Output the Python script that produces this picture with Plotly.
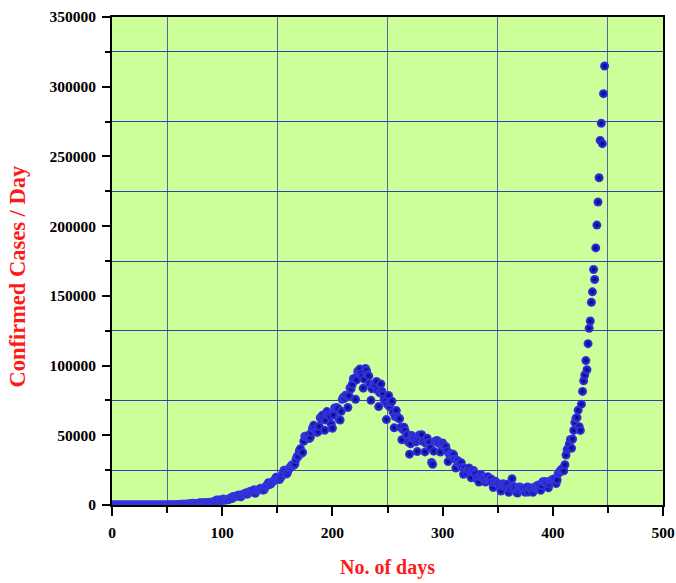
import plotly.graph_objects as go

# Daily confirmed cases, one value per day (day 0 = first reported case)
cases_jan_feb_2020 = [1, 0, 0, 1, 1] + [0] * 27
cases_mar_2020 = [2, 1, 22, 2, 1, 3, 5, 9, 15, 8, 10, 10, 21, 26, 11, 34, 25, 42, 58, 78,
                  69, 94, 74, 86, 73, 153, 136, 120, 187, 309]
cases_apr_2020 = [424, 486, 560, 579, 609, 484, 573, 565, 813, 871, 854, 758, 1243, 1031, 886,
                  1061, 922, 1371, 1580, 1239, 1537, 1292, 1667, 1408, 1835, 1607, 1568, 1902,
                  1705, 1801]
cases_may_2020 = [2396, 2564, 2952, 3656, 2971, 3602, 3344, 3339, 3175, 4311, 3592, 3562, 3726,
                  3991, 3808, 4794, 5050, 4628, 6154, 5720, 6023, 6536, 6667, 7111, 6414, 5843,
                  7293, 7300, 8105, 8336, 8782]
cases_jun_2020 = [7761, 8821, 9633, 9889, 9471, 10438, 10864, 8442, 10218, 10459, 10930, 11458,
                  11929, 11071, 10667, 10974, 12881, 13586, 14516, 15940, 14821, 14933, 15968,
                  16922, 17296, 18552, 19906, 19459, 18339, 18256]
cases_jul_2020 = [19429, 20903, 22771, 24850, 24248, 22252, 22752, 24879, 26506, 27114, 28637,
                  28701, 28498, 29429, 32695, 34956, 34884, 38902, 40425, 37148, 37724, 45720,
                  49310, 48916, 48661, 49931, 47704, 48513, 52123, 55079, 57118]
cases_aug_2020 = [54735, 52972, 52050, 52509, 56282, 62538, 61537, 64399, 62064, 53601, 60963,
                  66999, 64553, 65002, 63490, 57981, 55079, 64531, 69652, 68898, 69878, 69239,
                  61408, 60975, 67151, 75760, 77266, 76472, 78761, 78512, 69921]
cases_sep_2020 = [78357, 83883, 83341, 86432, 90632, 90802, 75809, 89706, 95735, 96551, 97570,
                  94372, 92071, 83809, 90123, 97894, 96424, 93337, 92605, 86961, 75083, 83347,
                  86508, 86052, 85362, 88600, 82170, 70589, 80472, 86821]
cases_oct_2020 = [81484, 79476, 75829, 74442, 61267, 72049, 78524, 70496, 73272, 74383, 66732,
                  55342, 63509, 67708, 63371, 62212, 61871, 55722, 46790, 54044, 55839, 53370,
                  50129, 50356, 45148, 36469, 43893, 49881, 48648, 48268, 46963]
cases_nov_2020 = [45231, 38310, 46253, 50209, 47638, 50357, 45674, 45903, 38073, 44281, 47905,
                  44879, 44878, 41100, 30548, 29163, 38617, 45576, 45882, 46232, 45209, 44059,
                  37975, 44376, 44489, 43082, 41322, 41810, 38772, 31118]
cases_dec_2020 = [36604, 35551, 36595, 36652, 36011, 32981, 26567, 32080, 31522, 29398, 30006,
                  30254, 27071, 22065, 26382, 24010, 22890, 25152, 26624, 24337, 19556, 23950,
                  24712, 23067, 22273, 18732, 20021, 16432, 20550, 21822, 20036]
cases_jan_2021 = [19079, 18177, 16505, 18088, 20346, 18139, 18222, 18645, 16311, 12584, 15968,
                  16946, 15590, 15158, 15144, 13788, 10064, 13823, 15223, 14545, 14256, 13203,
                  14849, 9102, 12689, 11666, 18855, 13083, 13052, 11427, 9102]
cases_feb_2021 = [8635, 11039, 12899, 12408, 11713, 12059, 11831, 9110, 11067, 12923, 9309,
                  12143, 12194, 11649, 9121, 11610, 12881, 13193, 13993, 14264, 14199, 10584,
                  13742, 16738, 16577, 16752, 16488, 15510]
cases_mar_2021 = [12286, 14989, 17407, 16838, 18327, 18711, 18599, 15388, 17921, 22854, 23285,
                  24882, 25320, 26291, 24492, 28903, 35871, 39726, 40953, 43846, 46951, 40715,
                  47262, 53476, 59118, 62258, 62714, 68020, 56211, 53480, 72330]
cases_apr_2021 = [81466, 89129, 93249, 103558, 96982, 115736, 126789, 131968, 145384, 152879,
                  168912, 161736, 184372, 200739, 217353, 234692, 261500, 273810, 259170,
                  295041, 314835]

daily_cases = (cases_jan_feb_2020 + cases_mar_2020 + cases_apr_2020 + cases_may_2020
               + cases_jun_2020 + cases_jul_2020 + cases_aug_2020 + cases_sep_2020
               + cases_oct_2020 + cases_nov_2020 + cases_dec_2020 + cases_jan_2021
               + cases_feb_2021 + cases_mar_2021 + cases_apr_2021)
days = list(range(len(daily_cases)))

x_ticks = [0, 100, 200, 300, 400, 500]
y_ticks = [0, 50000, 100000, 150000, 200000, 250000, 300000, 350000]

SERIF = "Liberation Serif, Times New Roman, serif"
TITLE_RED = "#ff1a1a"

fig = go.Figure(
    go.Scatter(
        x=days,
        y=daily_cases,
        mode="markers",
        marker=dict(
            size=9,
            color="#3a3ae8",
            gradient=dict(type="radial", color="#00007e"),
            line=dict(width=0),
        ),
        showlegend=False,
    )
)

axis_common = dict(
    showline=True,
    linecolor="black",
    linewidth=2,
    mirror=True,
    ticks="outside",
    tickcolor="black",
    tickwidth=2,
    showgrid=False,
    zeroline=False,
    automargin=False,
    tickformat="d",
    tickfont=dict(family=SERIF, size=15.5, color="black", weight="bold"),
)

# gridlines sit on the half-step (minor) positions only
fig.update_xaxes(
    **axis_common,
    range=[0, 500],
    tickvals=x_ticks,
    ticklen=9,
    ticklabelstandoff=3,
    minor=dict(tick0=50, dtick=100, ticks="outside", ticklen=6, tickwidth=1.5,
               tickcolor="black", showgrid=True, gridcolor="#56669e", gridwidth=1),
    title=dict(text="No. of days", standoff=20,
               font=dict(family=SERIF, size=20, color=TITLE_RED, weight="bold")),
)

fig.update_yaxes(
    **axis_common,
    range=[0, 350000],
    tickvals=y_ticks,
    ticklen=8,
    ticklabelstandoff=3,
    minor=dict(tick0=25000, dtick=50000, ticks="outside", ticklen=5, tickwidth=1.5,
               tickcolor="black", showgrid=True, gridcolor="#3440b0", gridwidth=1),
)

fig.update_layout(
    width=676,
    height=583,
    margin=dict(l=112, r=13, t=17, b=78),
    plot_bgcolor="#ccff99",
    paper_bgcolor="white",
    annotations=[
        dict(
            text="Confirmed Cases / Day",
            textangle=-90,
            xref="paper", yref="paper",
            x=0, y=0.468,
            xshift=-94,
            xanchor="center", yanchor="middle",
            showarrow=False,
            font=dict(family=SERIF, size=22.5, color=TITLE_RED, weight="bold"),
        )
    ],
)

fig.write_html("out.html")
